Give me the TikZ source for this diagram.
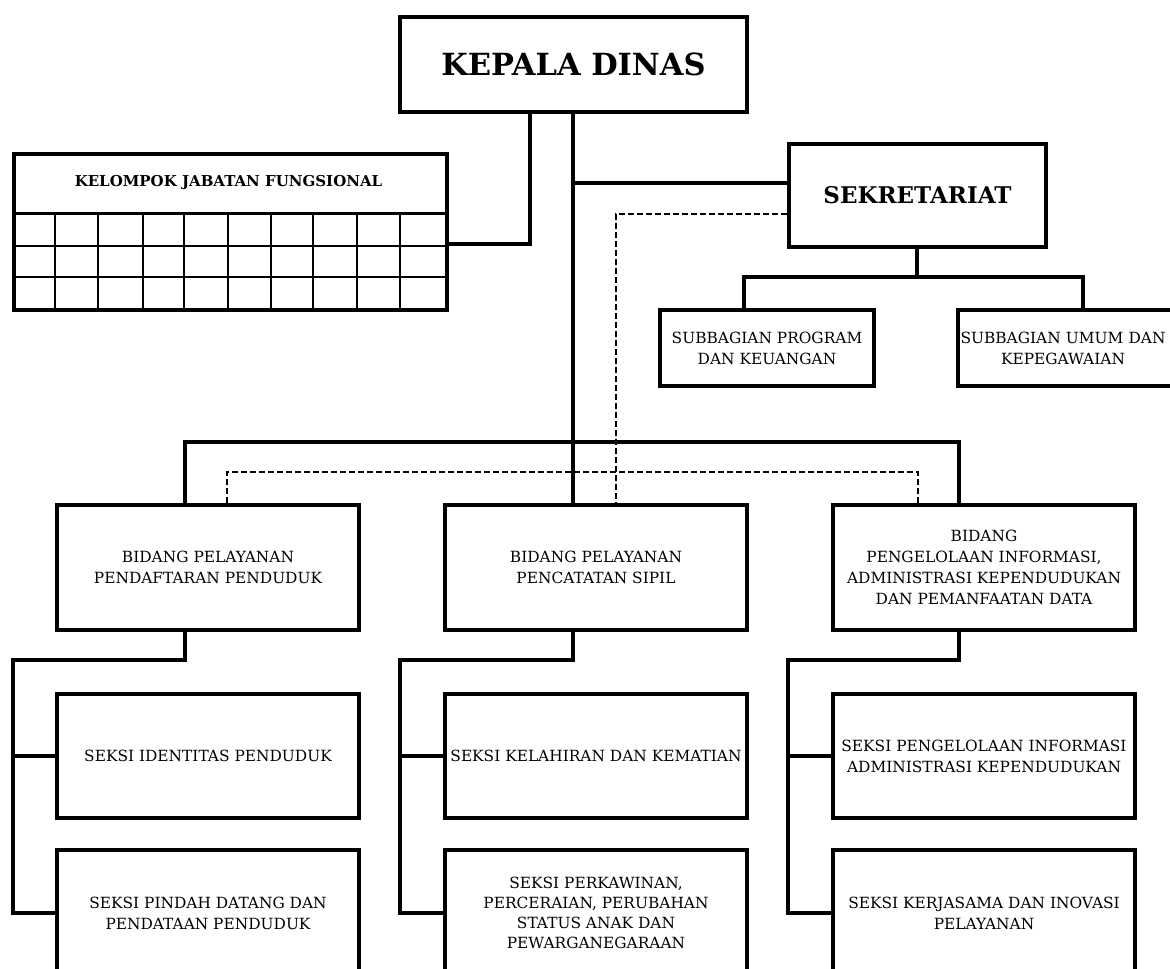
\documentclass[tikz,border=0pt]{standalone}
\usepackage{fontspec}
\setmainfont{DejaVu Serif}
\begin{document}
\begin{tikzpicture}[x=1pt,y=-1pt,
  box/.style={draw=black, line width=4pt, anchor=north west, inner sep=1pt,
    align=center, font=\fontsize{15.4}{21}\selectfont},
  conn/.style={line width=4pt, line cap=rect, line join=miter},
  dconn/.style={line width=2pt, dash pattern=on 6pt off 3pt},
  gridline/.style={line width=2pt},
  titlebar/.style={line width=3pt},
  txt/.style={align=center, inner sep=0pt, font=\fontsize{15.4}{21}\selectfont}]
\clip (0,0) rectangle (1170,969);
\fill[white] (0,0) rectangle (1170,969);

% top
\node[box, minimum width=347pt, minimum height=95pt,
  font=\bfseries\fontsize{30.5}{34}\selectfont] (kd) at (398,15) {KEPALA DINAS};

% kelompok jabatan fungsional
\node[box, minimum width=433pt, minimum height=156pt] (kjf) at (12,152) {};
\node[txt, font=\bfseries\fontsize{15}{18}\selectfont] (kjft) at (228.5,182.5) {KELOMPOK JABATAN FUNGSIONAL};
\draw[titlebar] (kjf.west |- 0,213) -- (kjf.east |- 0,213);
\foreach \yy in {246,277}
  \draw[gridline] (kjf.west |- 0,\yy) -- (kjf.east |- 0,\yy);
\foreach \xx in {55,98,143,184,228,271,313,357,400}
  \draw[gridline] (\xx,213) -- (kjf.south -| \xx,0);

% sekretariat
\node[box, minimum width=257pt, minimum height=103pt,
  font=\bfseries\fontsize{23}{26}\selectfont] (sek) at (787,142) {SEKRETARIAT};
\node[box, minimum width=214pt, minimum height=76pt] (sp) at (658,308) {SUBBAGIAN PROGRAM\\DAN KEUANGAN};
\node[box, minimum width=220pt, minimum height=76pt, text width=212pt] (su) at (956,308) {\hspace*{-10pt}SUBBAGIAN UMUM DAN\\\hspace*{-10pt}KEPEGAWAIAN};

% bidang
\node[box, minimum width=302pt, minimum height=125pt] (b1) at (55,503) {BIDANG PELAYANAN\\PENDAFTARAN PENDUDUK};
\node[box, minimum width=302pt, minimum height=125pt] (b2) at (443,503) {BIDANG PELAYANAN\\PENCATATAN SIPIL};
\node[box, minimum width=302pt, minimum height=125pt] (b3) at (831,503) {BIDANG\\PENGELOLAAN INFORMASI,\\ADMINISTRASI KEPENDUDUKAN\\DAN PEMANFAATAN DATA};

% seksi
\node[box, minimum width=302pt, minimum height=124pt] (s11) at (55,692) {SEKSI IDENTITAS PENDUDUK};
\node[box, minimum width=302pt, minimum height=126pt] (s12) at (55,848) {SEKSI PINDAH DATANG DAN\\PENDATAAN PENDUDUK};
\node[box, minimum width=302pt, minimum height=124pt] (s21) at (443,692) {SEKSI KELAHIRAN DAN KEMATIAN};
\node[box, minimum width=302pt, minimum height=126pt, font=\fontsize{15.4}{20}\selectfont] (s22) at (443,848) {SEKSI PERKAWINAN,\\PERCERAIAN, PERUBAHAN\\STATUS ANAK DAN\\PEWARGANEGARAAN};
\node[box, minimum width=302pt, minimum height=124pt] (s31) at (831,692) {SEKSI PENGELOLAAN INFORMASI\\ADMINISTRASI KEPENDUDUKAN};
\node[box, minimum width=302pt, minimum height=126pt] (s32) at (831,848) {SEKSI KERJASAMA DAN INOVASI\\PELAYANAN};

% junction coordinates
\coordinate (jk) at (530,244);
\coordinate (tr) at (573,183);
\coordinate (bus1) at (185,442);
\coordinate (bus3) at (959,442);
\coordinate (d1) at (227,472);
\coordinate (d3) at (918,472);
\coordinate (ds) at (616,214);
\coordinate (sb1) at (744,277);
\coordinate (sb2) at (1083,277);
\coordinate (c1) at (13,660);
\coordinate (c2) at (400,660);
\coordinate (c3) at (788,660);

% connectors
\draw[conn] (kd.south -| jk) -- (jk) -- (kjf.east |- jk);
\draw[conn] (kd.south -| tr) -- (b2.north -| tr);
\draw[conn] (tr) -- (sek.west |- tr);
\draw[conn] (b1.north -| bus1) -- (bus1) -- (bus3) -- (b3.north -| bus3);
\draw[conn] (sek.south -| 917,0) -- (917,277);
\draw[conn] (sp.north -| sb1) -- (sb1) -- (sb2) -- (su.north -| sb2);
\draw[dconn] (sek.west |- ds) -- (ds) -- (b2.north -| ds);
\draw[dconn] (b1.north -| d1) -- (d1) -- (d3) -- (b3.north -| d3);

\draw[conn] (b1.south -| bus1) -- (bus1 |- c1) -- (c1) -- (c1 |- s12.west) -- (s12.west);
\draw[conn] (c1 |- s11.west) -- (s11.west);
\draw[conn] (b2.south -| tr) -- (tr |- c2) -- (c2) -- (c2 |- s22.west) -- (s22.west);
\draw[conn] (c2 |- s21.west) -- (s21.west);
\draw[conn] (b3.south -| bus3) -- (bus3 |- c3) -- (c3) -- (c3 |- s32.west) -- (s32.west);
\draw[conn] (c3 |- s31.west) -- (s31.west);
\end{tikzpicture}
\end{document}
